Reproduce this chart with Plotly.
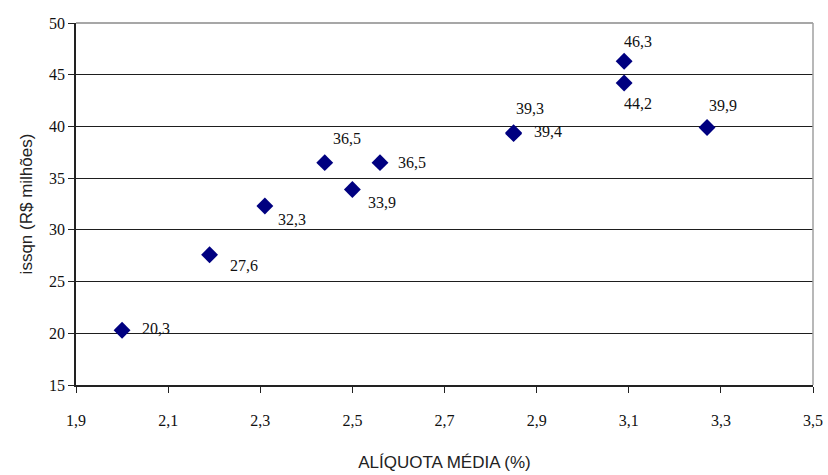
import plotly.graph_objects as go

# Average tax rate (%) vs. ISSQN revenue (R$ millions)
aliquota = [2.00, 2.19, 2.31, 2.44, 2.50, 2.56, 2.85, 2.85, 3.09, 3.09, 3.27]
issqn = [20.3, 27.6, 32.3, 36.5, 33.9, 36.5, 39.3, 39.4, 46.3, 44.2, 39.9]

x_ticks = [1.9, 2.1, 2.3, 2.5, 2.7, 2.9, 3.1, 3.3, 3.5]
y_ticks = [15, 20, 25, 30, 35, 40, 45, 50]

# pixel offsets of each value label from its marker (dx right, dy down)
label_offsets = [(34, -2), (34, 11), (27, 13), (22, -24), (30, 13), (32, 0),
                 (16, -25), (34, -1), (14, -20), (14, 21), (16, -22)]

SERIF = "Liberation Serif, Times New Roman, DejaVu Serif, serif"
SANS = "Liberation Sans, Arial, sans-serif"


def br(v, digits=1):
    return f"{v:.{digits}f}".replace(".", ",")


fig = go.Figure()
fig.add_trace(go.Scatter(
    x=aliquota, y=issqn, mode="markers",
    marker=dict(symbol="diamond", size=13, color="#000080",
                line=dict(width=0)),
    hoverinfo="skip", showlegend=False,
))

for xv, yv, (dx, dy) in zip(aliquota, issqn, label_offsets):
    fig.add_annotation(
        x=xv, y=yv, text=br(yv), showarrow=False,
        xshift=dx, yshift=-dy, xanchor="center", yanchor="middle",
        font=dict(family=SERIF, size=16, color="#111111"),
    )

fig.update_layout(
    width=828, height=475,
    margin=dict(l=76, r=15, t=23, b=90),
    paper_bgcolor="white", plot_bgcolor="white",
    xaxis=dict(
        range=[1.9, 3.5], tickvals=x_ticks, ticktext=[br(t) for t in x_ticks],
        showgrid=False, zeroline=False, automargin=False,
        showline=True, linecolor="#222222", linewidth=1.5,
        ticks="outside", ticklen=6, tickcolor="#222222", ticklabelstandoff=14,
        tickfont=dict(family=SERIF, size=16, color="#111111"),
        title=dict(text="ALÍQUOTA MÉDIA (%)", standoff=28,
                   font=dict(family=SANS, size=17, color="#222222")),
    ),
    yaxis=dict(
        range=[15, 50], tickvals=y_ticks, ticktext=[str(t) for t in y_ticks],
        showgrid=True, gridcolor="#1e1e1e", gridwidth=1.3, zeroline=False,
        automargin=False,
        showline=True, linecolor="#222222", linewidth=1.5,
        ticks="outside", ticklen=6, tickcolor="#222222",
        tickfont=dict(family=SERIF, size=16, color="#111111"),
        title=dict(text="issqn (R$ milhões)", standoff=12,
                   font=dict(family=SANS, size=17, color="#222222")),
    ),
)

# light frame on the top and right edges of the plotting area
fig.add_shape(type="line", xref="paper", yref="paper", x0=0, x1=1, y0=1, y1=1,
              line=dict(color="#8a8a8a", width=1.5))
fig.add_shape(type="line", xref="paper", yref="paper", x0=1, x1=1, y0=0, y1=1,
              line=dict(color="#a0a0a0", width=1.5))

fig.write_html("out.html")
